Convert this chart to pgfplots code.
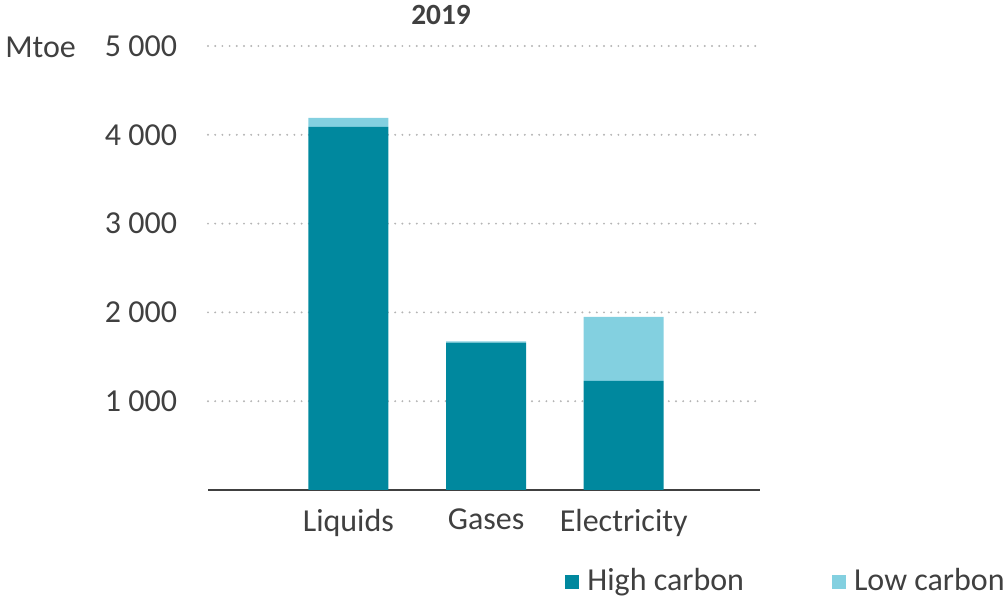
\documentclass[border=0pt]{standalone}
\usepackage{pgfplots}
\pgfplotsset{compat=1.18}
\usepackage{fontspec}
\setmainfont{Carlito}
\definecolor{hc}{HTML}{00889E}
\definecolor{lc}{HTML}{83D0E0}
\definecolor{txt}{HTML}{404040}
\definecolor{gridc}{HTML}{B4B4B4}
\begin{document}
\fontsize{24}{28}\selectfont
\begin{tikzpicture}
\useasboundingbox (0,0) rectangle (754.5pt,448.5pt);
\node[anchor=west, inner sep=0pt, text=txt] at (3.75pt,413pt) {Mtoe};
\node[inner sep=0pt, text=txt, font=\bfseries\fontsize{22}{26}\selectfont] at (330.75pt,437pt) {2019};
\begin{axis}[at={(156pt,81pt)}, anchor=south west, scale only axis,
  width=414pt, height=333pt,
  ybar stacked, bar width=60pt,
  xmin=-1.02, xmax=2.99, ymin=0, ymax=5000,
  xtick={0,1,2}, xticklabels={Liquids,Gases,Electricity},
  ytick={1000,2000,3000,4000,5000}, yticklabels={1 000,2 000,3 000,4 000,5 000},
  axis lines*=left, y axis line style={draw=none},
  x axis line style={draw=txt, line width=0.8pt, -},
  major tick length=0pt,
  ymajorgrids, grid style={draw=gridc, line width=1.6pt, line cap=round, dash pattern=on 0pt off 5.4pt},
  yticklabel style={inner sep=0pt, anchor=east, xshift=-23pt, text=txt},
  xticklabel style={inner sep=0pt, anchor=north, yshift=-14pt, text=txt},
  legend style={at={(0.647,-0.207)}, anchor=west, draw=none, fill=none, legend columns=2,
    /tikz/every even column/.append style={column sep=60pt}, text=txt, inner sep=0pt,
    nodes={inner sep=6pt}},
  legend image code/.code={\fill[#1] (0pt,-5.25pt) rectangle (10.5pt,5.25pt);},
]
\addplot[draw=none, fill=hc] coordinates {(0,4090) (1,1660) (2,1230)};
\addplot[draw=none, fill=lc] coordinates {(0,100) (1,15) (2,720)};
\legend{High carbon, Low carbon}
\end{axis}
\end{tikzpicture}
\end{document}
